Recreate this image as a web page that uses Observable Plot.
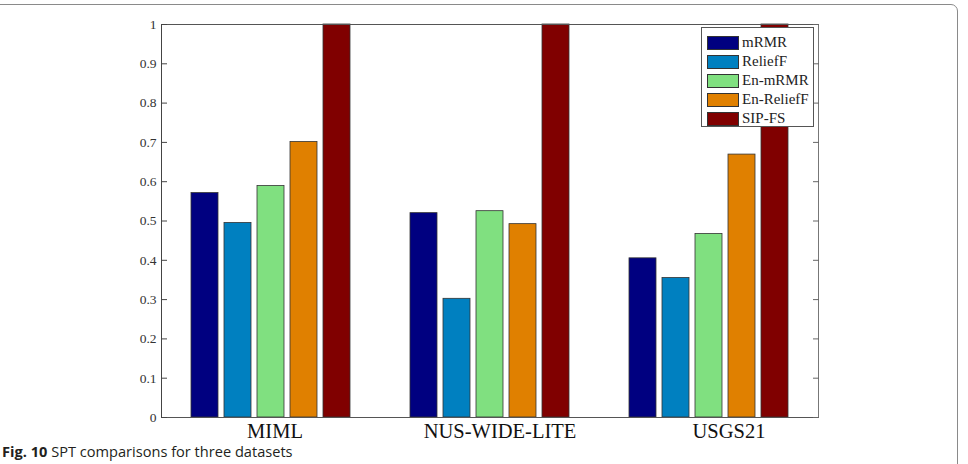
<!DOCTYPE html>
<html>
<head>
<meta charset="utf-8">
<script src="https://cdn.jsdelivr.net/npm/d3@7"></script>
<script src="https://cdn.jsdelivr.net/npm/@observablehq/plot@0.6"></script>
<style>
  html, body { margin: 0; padding: 0; background: #fff; }
  #wrap { position: relative; width: 968px; height: 464px; overflow: hidden; }
  #outer { position: absolute; left: -10px; top: 4px; width: 968px; height: 480px;
           border: 1.5px solid #8a8a8a; border-radius: 7px; box-sizing: border-box; }
  #chart { position: absolute; left: 0; top: 0; }
  #legend { position: absolute; left: 701px; top: 27px; width: 113px; height: 100px;
            box-sizing: border-box; border: 1px solid #555; background: #fff;
            padding-top: 5px; }
  .row { height: 19px; display: flex; align-items: center; }
  .sw { width: 32px; height: 14px; margin-left: 5px; margin-right: 3px; box-sizing: border-box;
        border: 1px solid #333; }
  .lab { font-family: "Liberation Serif", serif; font-size: 15px; color: #222; }
  #caption { position: absolute; left: 2px; top: 441px; font-family: "Open Sans", sans-serif;
             font-size: 14.6px; color: #231f20; white-space: nowrap; }
</style>
</head>
<body>
<div id="wrap">
  <div id="outer"></div>
  <div id="chart"></div>
  <div id="legend"></div>
  <div id="caption"><b>Fig. 10</b> SPT comparisons for three datasets</div>
</div>
<script>
const datasets = ["MIML", "NUS-WIDE-LITE", "USGS21"];
const methods = ["mRMR", "ReliefF", "En-mRMR", "En-ReliefF", "SIP-FS"];
const methodColors = ["#000080", "#0080c0", "#80e080", "#e08000", "#800000"];
const mRMR = [0.571, 0.520, 0.405];
const ReliefF = [0.495, 0.302, 0.355];
const EnmRMR = [0.589, 0.525, 0.467];
const EnReliefF = [0.701, 0.492, 0.669];
const SIPFS = [1.0, 1.0, 1.0];
const yTicks = [0, 0.1, 0.2, 0.3, 0.4, 0.5, 0.6, 0.7, 0.8, 0.9, 1];
const yTickLabels = ["0", "0.1", "0.2", "0.3", "0.4", "0.5", "0.6", "0.7", "0.8", "0.9", "1"];

const series = [mRMR, ReliefF, EnmRMR, EnReliefF, SIPFS];
const rows = [];
datasets.forEach((d, i) => methods.forEach((m, j) => rows.push({dataset: d, method: m, value: series[j][i]})));

const labelShift = [4, 10, 20];
const serif = "Liberation Serif, Times New Roman, serif";

const chart = Plot.plot({
  width: 968,
  height: 464,
  marginLeft: 161,
  marginRight: 150,
  marginTop: 24,
  marginBottom: 47,
  style: {fontFamily: serif, background: "transparent"},
  fx: {domain: datasets, padding: 0, label: null},
  x: {domain: methods, paddingInner: 0.176, paddingOuter: 0.81, axis: null},
  y: {domain: [0, 1], label: null},
  color: {domain: methods, range: methodColors},
  marks: [
    Plot.barY(rows, {fx: "dataset", x: "method", y: "value", fill: "method", stroke: "#333", strokeWidth: 0.8}),
    Plot.frame({anchor: "top", stroke: "#555"}),
    Plot.frame({anchor: "bottom", stroke: "#555"}),
    Plot.frame({anchor: "left", stroke: "#444", facetAnchor: "left"}),
    Plot.frame({anchor: "right", stroke: "#777", facetAnchor: "right"}),
    Plot.axisY({anchor: "left", ticks: yTicks, tickFormat: (d) => yTickLabels[yTicks.indexOf(d)],
      tickSize: -6, tickPadding: 11, fontSize: 13.5, color: "#333", stroke: "#444", label: null}),
    Plot.axisY({anchor: "right", ticks: yTicks, tickFormat: () => "", tickSize: -6, stroke: "#666", label: null}),
    ...datasets.map((d, i) => Plot.axisFx({anchor: "bottom", ticks: [d], tickSize: 0, tickPadding: 6,
      fontSize: 20.5, color: "#111", dx: labelShift[i], label: null}))
  ]
});
document.getElementById("chart").appendChild(chart);

const legend = document.getElementById("legend");
methods.forEach((m, j) => {
  const r = document.createElement("div");
  r.className = "row";
  r.innerHTML = `<div class="sw" style="background:${methodColors[j]}"></div><span class="lab">${m}</span>`;
  legend.appendChild(r);
});
</script>
</body>
</html>
